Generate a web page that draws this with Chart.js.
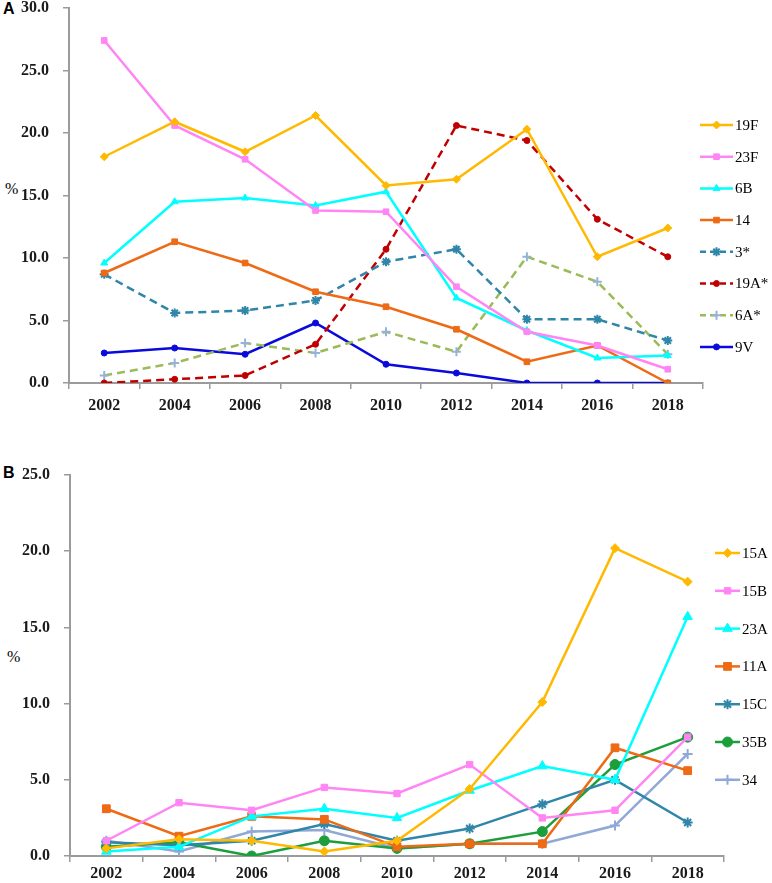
<!DOCTYPE html>
<html>
<head>
<meta charset="utf-8">
<script src="https://cdn.jsdelivr.net/npm/chart.js@4/dist/chart.umd.min.js"></script>
<style>
  body { margin: 0; background: #fff; width: 772px; height: 883px; position: relative; overflow: hidden; }
  canvas { position: absolute; left: 0; }
  .panel { position: absolute; font: bold 16px "Liberation Sans", Arial, sans-serif; color: #000; }
  .unit { position: absolute; font: 16px "Liberation Serif", serif; color: #000; }
</style>
</head>
<body>
<div class="panel" style="left:3px; top:0px;">A</div>
<div class="unit" style="left:5px; top:180px;">%</div>
<canvas id="chartA" width="772" height="434" style="top:-14px;"></canvas>
<div class="panel" style="left:3px; top:464px;">B</div>
<div class="unit" style="left:7px; top:648px;">%</div>
<canvas id="chartB" width="772" height="430" style="top:453px;"></canvas>
<script>
    const years = ['2002', '2004', '2006', '2008', '2010', '2012', '2014', '2016', '2018'];

    // panel A
    const labelsA = ['19F', '23F', '6B', '14', '3*', '19A*', '6A*', '9V'];
    const v19F = [18.1, 20.9, 18.5, 21.4, 15.8, 16.3, 20.3, 10.1, 12.4];
    const v23F = [27.4, 20.6, 17.9, 13.8, 13.7, 7.7, 4.1, 3.0, 1.1];
    const v6B = [9.6, 14.5, 14.8, 14.2, 15.3, 6.8, 4.2, 2.0, 2.2];
    const v14 = [8.8, 11.3, 9.6, 7.3, 6.1, 4.3, 1.7, 3.0, 0.0];
    const v3 = [8.7, 5.6, 5.8, 6.6, 9.7, 10.7, 5.1, 5.1, 3.4];
    const v19A = [0.0, 0.3, 0.6, 3.1, 10.7, 20.6, 19.4, 13.1, 10.1];
    const v6A = [0.6, 1.6, 3.2, 2.4, 4.1, 2.5, 10.1, 8.1, 2.3];
    const v9V = [2.4, 2.8, 2.3, 4.8, 1.5, 0.8, 0.0, 0.0, 0.0];
    const yMaxA = 30;

    // panel B
    const labelsB = ['15A', '15B', '23A', '11A', '15C', '35B', '34'];
    const v15A = [0.5, 1.1, 1.0, 0.3, 1.0, 4.4, 10.1, 20.2, 18.0];
    const v15B = [1.0, 3.5, 3.0, 4.5, 4.1, 6.0, 2.5, 3.0, 7.8];
    const v23A = [0.3, 0.6, 2.6, 3.1, 2.5, 4.3, 5.9, 5.0, 15.7];
    const v11A = [3.1, 1.3, 2.6, 2.4, 0.6, 0.8, 0.8, 7.1, 5.6];
    const v15C = [0.9, 0.7, 1.0, 2.1, 1.0, 1.8, 3.4, 5.0, 2.2];
    const v35B = [0.6, 0.9, 0.0, 1.0, 0.5, 0.8, 1.6, 6.0, 7.8];
    const v34 = [1.0, 0.3, 1.6, 1.7, 0.5, 0.8, 0.8, 2.0, 6.7];
    const yMaxB = 25;

    const axisGray = '#9b9b9b';
    const tickFont = { family: '"Liberation Serif", "Times New Roman", serif', size: 16, weight: 'bold', lineHeight: 1 };

    function series(label, data, color, style, radius, dashed, markerColor) {
        return {
            label: label,
            data: data,
            borderColor: color,
            backgroundColor: markerColor || color,
            pointBackgroundColor: markerColor || color,
            pointBorderColor: markerColor || color,
            pointStyle: style,
            pointRadius: radius,
            pointBorderWidth: (style === 'star' || style === 'cross') ? 2 : 1,
            borderWidth: 2.5,
            borderDash: dashed ? [8, 5] : [],
            tension: 0,
            fill: false
        };
    }

    // draws the legend as line + marker + label, using each dataset's own style
    const lineLegend = {
        id: 'lineLegend',
        afterDraw(chart, args, opts) {
            const ctx = chart.ctx;
            chart.data.datasets.forEach((ds, i) => {
                const y = opts.y0 + i * opts.step;
                ctx.save();
                ctx.strokeStyle = ds.borderColor;
                ctx.lineWidth = ds.borderWidth;
                ctx.setLineDash(ds.borderDash.length ? [6, 4] : []);
                ctx.beginPath();
                ctx.moveTo(opts.x0, y);
                ctx.lineTo(opts.x1, y);
                ctx.stroke();
                ctx.setLineDash([]);
                ctx.fillStyle = ds.pointBackgroundColor;
                ctx.strokeStyle = ds.pointBorderColor;
                ctx.lineWidth = ds.pointBorderWidth;
                Chart.helpers.drawPoint(ctx, {
                    pointStyle: ds.pointStyle,
                    radius: ds.pointRadius,
                    rotation: 0,
                    borderWidth: ds.pointBorderWidth
                }, (opts.x0 + opts.x1) / 2, y);
                ctx.fillStyle = '#000';
                ctx.font = '15px "Liberation Serif", "Times New Roman", serif';
                ctx.textBaseline = 'middle';
                ctx.textAlign = 'left';
                ctx.fillText(ds.label, opts.x1 + 2, y + 1);
                ctx.restore();
            });
        }
    };

    function makeChart(id, datasets, yMax, layout) {
        return new Chart(document.getElementById(id), {
            type: 'line',
            data: { labels: years, datasets: datasets },
            plugins: [lineLegend],
            options: {
                responsive: false,
                animation: false,
                layout: { padding: { left: 0, right: layout.right, top: 0, bottom: 0 } },
                plugins: {
                    legend: { display: false },
                    tooltip: { enabled: false },
                    lineLegend: layout.legend
                },
                scales: {
                    x: {
                        offset: true,
                        grid: { offset: true, drawOnChartArea: false, tickLength: 6, color: axisGray, lineWidth: 1.5 },
                        border: { color: axisGray, width: 2 },
                        ticks: { font: tickFont, color: '#1a1a1a', padding: layout.xPad, maxRotation: 0 },
                        afterFit: (s) => { s.height = layout.xHeight; }
                    },
                    y: {
                        min: 0,
                        max: yMax,
                        grid: { drawOnChartArea: false, tickLength: 6, color: axisGray, lineWidth: 1.5 },
                        border: { color: axisGray, width: 2 },
                        ticks: {
                            stepSize: 5,
                            font: tickFont,
                            color: '#1a1a1a',
                            padding: 14,
                            callback: (v) => v.toFixed(1)
                        },
                        afterFit: (s) => { s.width = layout.yWidth; }
                    }
                }
            }
        });
    }

    makeChart('chartA', [
        series(labelsA[0], v19F, '#ffb900', 'rectRot', 4),
        series(labelsA[1], v23F, '#ff85f5', 'rect', 4),
        series(labelsA[2], v6B, '#00ffff', 'triangle', 4),
        series(labelsA[3], v14, '#ee6a14', 'rect', 4),
        series(labelsA[4], v3, '#2f86a8', 'star', 4.5, true),
        series(labelsA[5], v19A, '#c00000', 'circle', 3, true),
        series(labelsA[6], v6A, '#9bbb59', 'cross', 4.5, true, '#95b3d7'),
        series(labelsA[7], v9V, '#0a0add', 'circle', 3)
    ], yMaxA, {
        right: 69, xHeight: 37, xPad: 9, yWidth: 69,
        legend: { x0: 700, x1: 733, y0: 139, step: 31.7 }
    });

    makeChart('chartB', [
        series(labelsB[0], v15A, '#ffb900', 'rectRot', 4.5),
        series(labelsB[1], v15B, '#ff85f5', 'rect', 4.5),
        series(labelsB[2], v23A, '#00ffff', 'triangle', 5.5),
        series(labelsB[3], v11A, '#ee6a14', 'rect', 5.5),
        series(labelsB[4], v15C, '#2f86a8', 'star', 5),
        series(labelsB[5], v35B, '#1c9e3c', 'circle', 5),
        series(labelsB[6], v34, '#8fa8d8', 'cross', 5)
    ], yMaxB, {
        right: 48, xHeight: 27, xPad: 4, yWidth: 70,
        legend: { x0: 715, x1: 740, y0: 100, step: 37.8 }
    });
</script>
</body>
</html>
